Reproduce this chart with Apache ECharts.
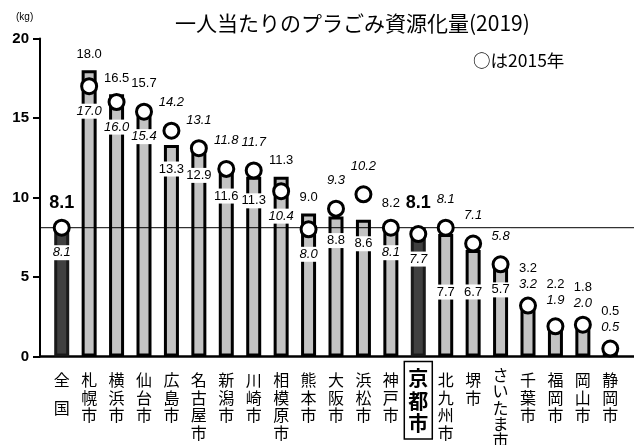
<!DOCTYPE html>
<html>
<head>
<meta charset="utf-8">
<script src="https://cdn.jsdelivr.net/npm/echarts@6/dist/echarts.min.js"></script>
<style>
  html, body { margin: 0; padding: 0; background: #fff; }
  #chart { width: 634px; height: 445px; }
</style>
</head>
<body>
<div id="chart"></div>
<script>
// Per-capita plastic waste recycled (kg), 2019 bars vs 2015 circles
const cities = ['全国', '札幌市', '横浜市', '仙台市', '広島市', '名古屋市', '新潟市', '川崎市', '相模原市', '熊本市',
  '大阪市', '浜松市', '神戸市', '京都市', '北九州市', '堺市', 'さいたま市', '千葉市', '福岡市', '岡山市', '静岡市'];
const values2019 = [8.1, 18.0, 16.5, 15.7, 13.3, 12.9, 11.6, 11.3, 11.3, 9.0, 8.8, 8.6, 8.2, 8.1, 7.7, 6.7, 5.7, 3.2, 2.2, 1.8, 0.5];
const values2015 = [8.1, 17.0, 16.0, 15.4, 14.2, 13.1, 11.8, 11.7, 10.4, 8.0, 9.3, 10.2, 8.1, 7.7, 8.1, 7.1, 5.8, 3.2, 1.9, 2.0, 0.5];
const yTicks = [0, 5, 10, 15, 20];
const highlighted = ['全国', '京都市'];
const nationalAverage = values2019[cities.indexOf('全国')];

// layout
const H = 445, GRID_TOP = 38.5, GRID_BOTTOM = 88.5;
const Y_MAX = yTicks[yTicks.length - 1];
const PPU = (H - GRID_TOP - GRID_BOTTOM) / Y_MAX;   // pixels per kg
// extra drop for some in-bar labels so they line up
const insideDrop = { '北九州市': 58, '堺市': 42 };

const NUM_FONT = 'Liberation Sans, Arial, sans-serif';
const JP_FONT = 'Noto Sans CJK JP, sans-serif';

const isHi = name => highlighted.includes(name);

// label offsets (pixels) relative to each mark
const barLabelItems = [];
const circleLabelItems = [];
cities.forEach((name, i) => {
  const v19 = values2019[i], v15 = values2015[i];
  let dyBar, dyCircle;
  if (v19 < 4) {
    // short bars: both numbers stacked above the mark
    const top = Math.max(v19, v15);
    dyBar = -(top - v19) * PPU - 37;
    dyCircle = -(top - v15) * PPU - 21;
  } else if (v19 >= v15) {
    const diff = v19 - v15;
    dyBar = diff < 0.45 ? (isHi(name) ? -25 : -23) : -16;
    dyCircle = 25;
  } else {
    dyBar = insideDrop[name] || 24;
    dyCircle = -28;
  }
  barLabelItems.push({
    value: v19,
    label: isHi(name)
      ? { offset: [0, dyBar], fontSize: 18, fontWeight: 'bold', backgroundColor: 'transparent' }
      : { offset: [0, dyBar] }
  });
  circleLabelItems.push({ value: v15, label: { offset: [0, dyCircle] } });
});

// category labels: Kyoto boxed and bold, the long kana name packed tighter
const xData = cities.map(name => {
  if (name === '京都市') {
    return { value: name, textStyle: { fontSize: 20, fontWeight: 'bold', lineHeight: 22.5,
      borderColor: '#000', borderWidth: 1.5, padding: [6, 4, 4, 4], color: '#000' } };
  }
  if (name === 'さいたま市') {
    return { value: name, textStyle: { lineHeight: 16.2, padding: [5.5, 0, 0, 0] } };
  }
  return name;
});

const chart = echarts.init(document.getElementById('chart'), null, { renderer: 'canvas' });
chart.setOption({
  animation: false,
  backgroundColor: '#fff',
  textStyle: { fontFamily: JP_FONT },
  title: [
    { text: '一人当たりのプラごみ資源化量(2019)', left: 170, top: 8,
      textStyle: { fontSize: 21, fontWeight: 'normal', color: '#000', fontFamily: JP_FONT } },
    { text: '○は2015年', left: 468, top: 47,
      textStyle: { fontSize: 17.5, fontWeight: 'normal', color: '#000', fontFamily: JP_FONT } },
    { text: '(kg)', left: 11, top: 7,
      textStyle: { fontSize: 10, fontWeight: 'normal', color: '#000', fontFamily: NUM_FONT } }
  ],
  grid: [
    { left: 48, right: 10, top: GRID_TOP, bottom: GRID_BOTTOM, outerBoundsMode: 'none', containLabel: false },
    { left: 40, right: 0, top: GRID_TOP, bottom: GRID_BOTTOM, outerBoundsMode: 'none', containLabel: false }
  ],
  xAxis: [
    {
      type: 'category', gridIndex: 0, data: xData,
      axisLine: { show: false }, axisTick: { show: false }, splitLine: { show: false },
      axisLabel: {
        interval: 0, margin: 5, padding: [9.5, 0, 0, 0],
        fontSize: 16, lineHeight: 17.7, color: '#000', fontFamily: JP_FONT,
        formatter: name => name === '全国'
          ? '{n|全}\n{g| }\n{n|国}'
          : name.split('').join('\n'),
        rich: {
          n: { fontSize: 16, lineHeight: 17.7, color: '#000', fontFamily: JP_FONT },
          g: { fontSize: 8, lineHeight: 10.6 }
        }
      }
    },
    {
      type: 'value', gridIndex: 1, min: 0, max: 1,
      axisLine: { show: true, onZero: false, lineStyle: { color: '#000', width: 2.5 } },
      axisTick: { show: false }, axisLabel: { show: false }, splitLine: { show: false }
    }
  ],
  yAxis: [
    { type: 'value', gridIndex: 0, min: 0, max: Y_MAX, show: false, splitLine: { show: false } },
    {
      type: 'value', gridIndex: 1, min: 0, max: Y_MAX, interval: 5,
      axisLine: { show: true, lineStyle: { color: '#000', width: 2 } },
      axisTick: { show: true, length: 7, lineStyle: { color: '#000', width: 2 } },
      axisLabel: { fontSize: 15, fontWeight: 'bold', color: '#000', margin: 11, fontFamily: NUM_FONT },
      splitLine: { show: false }
    }
  ],
  series: [
    {
      name: '2019', type: 'bar', xAxisIndex: 0, yAxisIndex: 0, barWidth: 15, z: 2, silent: true,
      itemStyle: { color: '#c3c3c3', borderColor: '#000', borderWidth: 3 },
      data: values2019.map((v, i) => isHi(cities[i])
        ? { value: v, itemStyle: { color: '#404040', borderColor: '#1a1a1a' } }
        : v)
    },
    {
      name: '全国平均', type: 'line', xAxisIndex: 1, yAxisIndex: 1, z: 3, silent: true,
      symbol: 'none', lineStyle: { color: '#000', width: 1 },
      data: [[0, nationalAverage], [1, nationalAverage]]
    },
    {
      name: '2015', type: 'scatter', xAxisIndex: 0, yAxisIndex: 0, z: 4, silent: true,
      symbol: 'circle', symbolSize: 15,
      itemStyle: { color: '#fff', borderColor: '#000', borderWidth: 3, opacity: 1 },
      data: values2015
    },
    {
      name: '2019 labels', type: 'scatter', xAxisIndex: 0, yAxisIndex: 0, z: 6, silent: true,
      symbolSize: 1, itemStyle: { color: 'rgba(0,0,0,0)', opacity: 1 },
      label: {
        show: true, position: 'inside', color: '#000', fontSize: 13, fontFamily: NUM_FONT,
        backgroundColor: '#fff', padding: [1, 1],
        formatter: p => p.value.toFixed(1)
      },
      data: barLabelItems
    },
    {
      name: '2015 labels', type: 'scatter', xAxisIndex: 0, yAxisIndex: 0, z: 7, silent: true,
      symbolSize: 1, itemStyle: { color: 'rgba(0,0,0,0)', opacity: 1 },
      label: {
        show: true, position: 'inside', color: '#000', fontSize: 13, fontStyle: 'italic',
        fontFamily: NUM_FONT, backgroundColor: '#fff', padding: [1, 1],
        formatter: p => p.value.toFixed(1)
      },
      data: circleLabelItems
    }
  ]
});
</script>
</body>
</html>
